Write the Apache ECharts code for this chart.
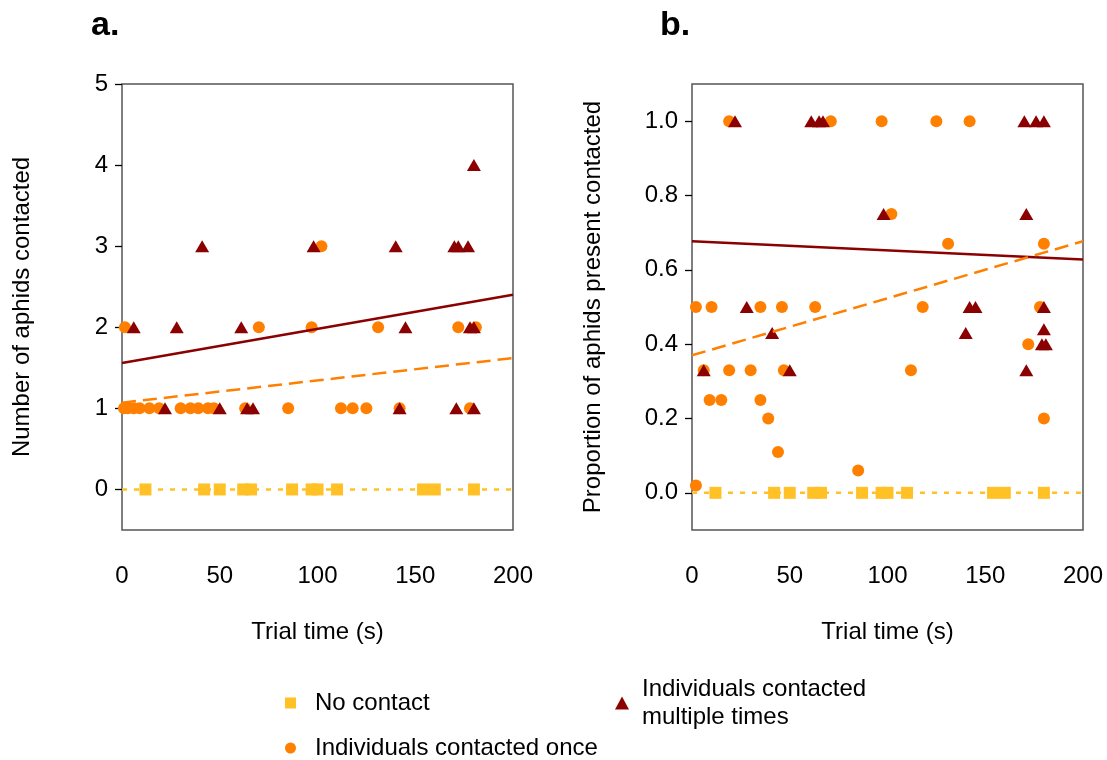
<!DOCTYPE html>
<html>
<head>
<meta charset="utf-8">
<script src="https://cdn.jsdelivr.net/npm/echarts@6/dist/echarts.min.js"></script>
<style>
html,body{margin:0;padding:0;background:#fff;}
#chart{width:1107px;height:760px;}
</style>
</head>
<body>
<div id="chart"></div>
<script>
// ---- tick labels ----
const xTicks = [0, 50, 100, 150, 200];
const yTicksA = [0, 1, 2, 3, 4, 5];
const yTicksB = [0, 0.2, 0.4, 0.6, 0.8, 1.0];

// ---- series names ----
const nameNone = 'No contact';
const nameOnce = 'Individuals contacted once';
const nameMulti = 'Individuals contacted multiple times';

// ---- no contact trials (both panels, value 0) ----
const noneTime = [12, 42, 50, 62, 66, 87, 97, 100, 110, 154, 160, 180];
const noneValA = [0, 0, 0, 0, 0, 0, 0, 0, 0, 0, 0, 0];
const noneValB = [0, 0, 0, 0, 0, 0, 0, 0, 0, 0, 0, 0];

// ---- panel a: number contacted ----
const onceTimeA  = [1, 3, 6, 9, 14, 19, 30, 35, 39, 44, 47, 63, 85, 112, 118, 125, 142, 178, 1.5, 70, 97, 131, 172, 181, 102];
const onceCountA = [1, 1, 1, 1, 1, 1, 1, 1, 1, 1, 1, 1, 1, 1, 1, 1, 1, 1, 2, 2, 2, 2, 2, 2, 3];
const multiTimeA  = [22, 50, 64, 67, 142, 171, 180, 6, 28, 61, 145, 178, 180, 41, 98, 140, 170, 172, 177, 180];
const multiCountA = [1, 1, 1, 1, 1, 1, 1, 2, 2, 2, 2, 2, 2, 3, 3, 3, 3, 3, 3, 4];

// ---- panel b: proportion contacted ----
const onceTimeB = [2, 2, 6, 10, 9, 15, 19, 19, 30, 35, 35, 39, 44, 46, 47, 63, 71, 85, 97, 102, 112, 118, 125, 131, 142, 172, 178, 180, 180];
const onceProbB = [0.02, 0.5, 0.33, 0.5, 0.25, 0.25, 1.0, 0.33, 0.33, 0.5, 0.25, 0.2, 0.11, 0.5, 0.33, 0.5, 1.0, 0.06, 1.0, 0.75, 0.33, 0.5, 1.0, 0.67, 1.0, 0.4, 0.5, 0.67, 0.2];
const multiTimeB = [22, 61, 65, 67, 170, 176, 180, 98, 171, 28, 142, 145, 180, 41, 140, 180, 179, 181, 6, 50, 171];
const multiProbB = [1, 1, 1, 1, 1, 1, 1, 0.75, 0.75, 0.5, 0.5, 0.5, 0.5, 0.43, 0.43, 0.44, 0.4, 0.4, 0.33, 0.33, 0.33];

// ---- fitted lines (value at x = 0 and x = 200) ----
const fitX = [0, 200];
const fitA_multi = [1.56, 2.40];
const fitA_once  = [1.07, 1.62];
const fitA_none  = [0, 0];
const fitB_multi = [0.677, 0.628];
const fitB_once  = [0.37, 0.677];
const fitB_none  = [0, 0];

const cNone = '#FFC125', cOnce = '#FF8000', cMulti = '#8B0000';
const FONT = 'Liberation Sans, Arial, sans-serif';
const FS = 24;

function pairs(xs, ys){ return xs.map((x,i)=>[x, ys[i]]); }

const chart = echarts.init(document.getElementById('chart'));

function xAxisFor(gi){
  return {
    type:'value', gridIndex:gi, min:0, max:200, interval:50,
    name:'Trial time (s)', nameLocation:'middle', nameGap:90,
    nameTextStyle:{fontSize:FS, color:'#000', fontFamily:FONT},
    axisLine:{show:false},
    axisTick:{show:false},
    axisLabel:{fontSize:FS, color:'#000', margin:34, fontFamily:FONT},
    splitLine:{show:false}
  };
}
function yAxisFor(gi, min, max, ticks, title, gap, fmt){
  return {
    type:'value', gridIndex:gi, min:min, max:max,
    name:title, nameLocation:'middle', nameGap:gap,
    nameTextStyle:{fontSize:FS, color:'#000', fontFamily:FONT},
    axisLine:{show:false},
    axisTick:{show:true, inside:false, length:7, customValues:ticks, lineStyle:{color:'#000', width:1.3}},
    axisLabel:{fontSize:FS, color:'#000', margin:14, customValues:ticks, formatter:fmt, fontFamily:FONT},
    splitLine:{show:false}
  };
}
function scatter(name, gi, data, symbol, size, color, z){
  return {type:'scatter', name:name, xAxisIndex:gi, yAxisIndex:gi, data:data,
    symbol:symbol, symbolSize:size, itemStyle:{color:color, opacity:1}, z:z, silent:true};
}
function fit(gi, ys, color, type, width){
  return {type:'line', xAxisIndex:gi, yAxisIndex:gi, data:pairs(fitX, ys), symbol:'none',
    lineStyle:{color:color, type:type, width:width}, z:10, silent:true};
}

const option = {
  animation:false,
  textStyle:{fontFamily:FONT},
  title:[
    {text:'a.', left:86, top:4, textStyle:{fontSize:34, fontWeight:'bold', color:'#000', fontFamily:'Liberation Sans Narrow, Liberation Sans, Arial'}},
    {text:'b.', left:655, top:4, textStyle:{fontSize:34, fontWeight:'bold', color:'#000', fontFamily:'Liberation Sans Narrow, Liberation Sans, Arial'}}
  ],
  grid:[
    {left:122, top:84, width:391, height:446, show:true, borderColor:'#555', borderWidth:1.5, backgroundColor:'transparent'},
    {left:692, top:84, width:391, height:446, show:true, borderColor:'#555', borderWidth:1.5, backgroundColor:'transparent'}
  ],
  xAxis:[xAxisFor(0), xAxisFor(1)],
  yAxis:[
    yAxisFor(0, -0.5, 5, yTicksA, 'Number of aphids contacted', 88, v=>String(v)),
    yAxisFor(1, -0.1, 1.1, yTicksB, 'Proportion of aphids present contacted', 87, v=>v.toFixed(1))
  ],
  legend:[
    {data:[nameNone], left:280, top:684, itemWidth:11, itemHeight:11, itemGap:0,
      textStyle:{fontSize:FS, color:'#000', fontFamily:FONT, lineHeight:28, padding:[0,0,0,14]}},
    {data:[nameOnce], left:280, top:729, itemWidth:11, itemHeight:11, itemGap:0,
      textStyle:{fontSize:FS, color:'#000', fontFamily:FONT, lineHeight:28, padding:[0,0,0,14]}},
    {data:[nameMulti], left:610, top:670, itemWidth:14, itemHeight:13, itemGap:0,
      formatter:n=>'Individuals contacted\nmultiple times',
      textStyle:{fontSize:FS, color:'#000', fontFamily:FONT, lineHeight:28, padding:[0,0,0,8]}}
  ],
  series:[
    scatter(nameOnce, 0, pairs(onceTimeA, onceCountA), 'circle', 12, cOnce, 3),
    scatter(nameMulti, 0, pairs(multiTimeA, multiCountA), 'triangle', [14,12], cMulti, 4),
    scatter(nameNone, 0, pairs(noneTime, noneValA), 'rect', 12, cNone, 5),
    fit(0, fitA_multi, cMulti, 'solid', 2.5),
    fit(0, fitA_once, cOnce, [14,7], 2.5),
    fit(0, fitA_none, cNone, [5,7], 2.5),
    scatter(nameOnce, 1, pairs(onceTimeB, onceProbB), 'circle', 12, cOnce, 3),
    scatter(nameMulti, 1, pairs(multiTimeB, multiProbB), 'triangle', [14,12], cMulti, 4),
    scatter(nameNone, 1, pairs(noneTime, noneValB), 'rect', 12, cNone, 5),
    fit(1, fitB_multi, cMulti, 'solid', 2.5),
    fit(1, fitB_once, cOnce, [14,7], 2.5),
    fit(1, fitB_none, cNone, [5,7], 2.5)
  ]
};
chart.setOption(option);
</script>
</body>
</html>
